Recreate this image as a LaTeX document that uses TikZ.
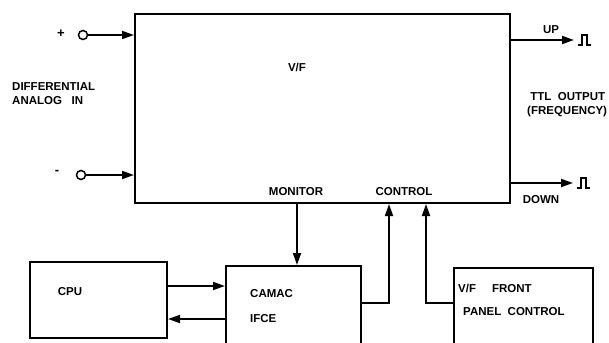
\documentclass[tikz,border=0pt]{standalone}
\usepackage{fontspec}
\setmainfont{Liberation Sans}
\usetikzlibrary{arrows.meta}
\begin{document}
\begin{tikzpicture}[x=1pt,y=-1pt,
  blk/.style={draw,line width=2pt,inner sep=0pt},
  lbl/.style={inner sep=0pt,font=\fontsize{11.5}{14}\selectfont\bfseries,align=left},
  arr/.style={line width=1.8pt,-{Triangle[length=12pt,width=8pt]}},
  wire/.style={line width=1.8pt},
  term/.style={draw,circle,line width=1.5pt,minimum size=9pt,inner sep=0pt},
  pulse/.style={line width=1.8pt}]
\useasboundingbox (0,0) rectangle (609,342);
\clip (0,0) rectangle (609,342);
% blocks
\node[blk,minimum width=375pt,minimum height=189pt] (vf) at (322.5,108.5) {};
\node[blk,minimum width=137pt,minimum height=76pt] (cpu) at (98.5,300) {};
\node[blk,minimum width=135pt,minimum height=84pt] (camac) at (293.5,308) {};
\node[blk,minimum width=139pt,minimum height=82pt] (fp) at (523.5,309) {};
% texts
\node[lbl] (tvf) at (297,67) {V/F};
\node[lbl,anchor=west] (tdiff) at (12,94) {DIFFERENTIAL\\ANALOG\ \ \ IN};
\node[lbl,font=\fontsize{13}{14}\selectfont\bfseries] (tplus) at (61,34) {+};
\node[lbl,font=\fontsize{13}{14}\selectfont\bfseries] (tminus) at (57,172) {-};
\node[lbl] (tup) at (551,30) {UP};
\node[lbl] (tdown) at (541,200) {DOWN};
\node[lbl,anchor=west] (tttl) at (527,105) {\ TTL\ \ OUTPUT\\(FREQUENCY)};
\node[lbl] (tmon) at (296,192) {MONITOR};
\node[lbl] (tctl) at (404,192) {CONTROL};
\node[lbl] (tcpu) at (70,292) {CPU};
\node[lbl,anchor=west] (tcamac) at (250,294) {CAMAC};
\node[lbl,anchor=west] (tifce) at (250,319) {IFCE};
\node[lbl,anchor=west] (tvff) at (458,288) {V/F\ \ \ \ \ FRONT};
\node[lbl,anchor=west] (tpc) at (463,312) {PANEL\ \ CONTROL};
% input terminals
\node[term] (inp) at (83,35) {};
\node[term] (inm) at (81,175) {};
\draw[arr] (inp.east) -- (vf.west |- inp);
\draw[arr] (inm.east) -- (vf.west |- inm);
% outputs
\coordinate (up) at (574,40);
\coordinate (down) at (573,183);
\draw[arr] (vf.east |- up) -- (up);
\draw[arr] (vf.east |- down) -- (down);
\foreach \p in {up,down}{
  \draw[pulse] ([shift={(4,5)}]\p) -- ++(4,0) -- ++(0,-10) -- ++(5,0) -- ++(0,10) -- ++(4,0);
}
% monitor
\coordinate (mon) at (297,0);
\draw[arr] (vf.south -| mon) -- (camac.north -| mon);
% cpu <-> camac
\coordinate (r1) at (0,286);
\coordinate (r2) at (0,319);
\draw[arr] (cpu.east |- r1) -- (camac.west |- r1);
\draw[arr] (camac.west |- r2) -- (cpu.east |- r2);
% control lines
\coordinate (c1) at (389,303);
\coordinate (c2) at (426,303);
\draw[arr] (camac.east |- c1) -| (vf.south -| c1);
\draw[arr] (fp.west |- c2) -| (vf.south -| c2);
\end{tikzpicture}
\end{document}
